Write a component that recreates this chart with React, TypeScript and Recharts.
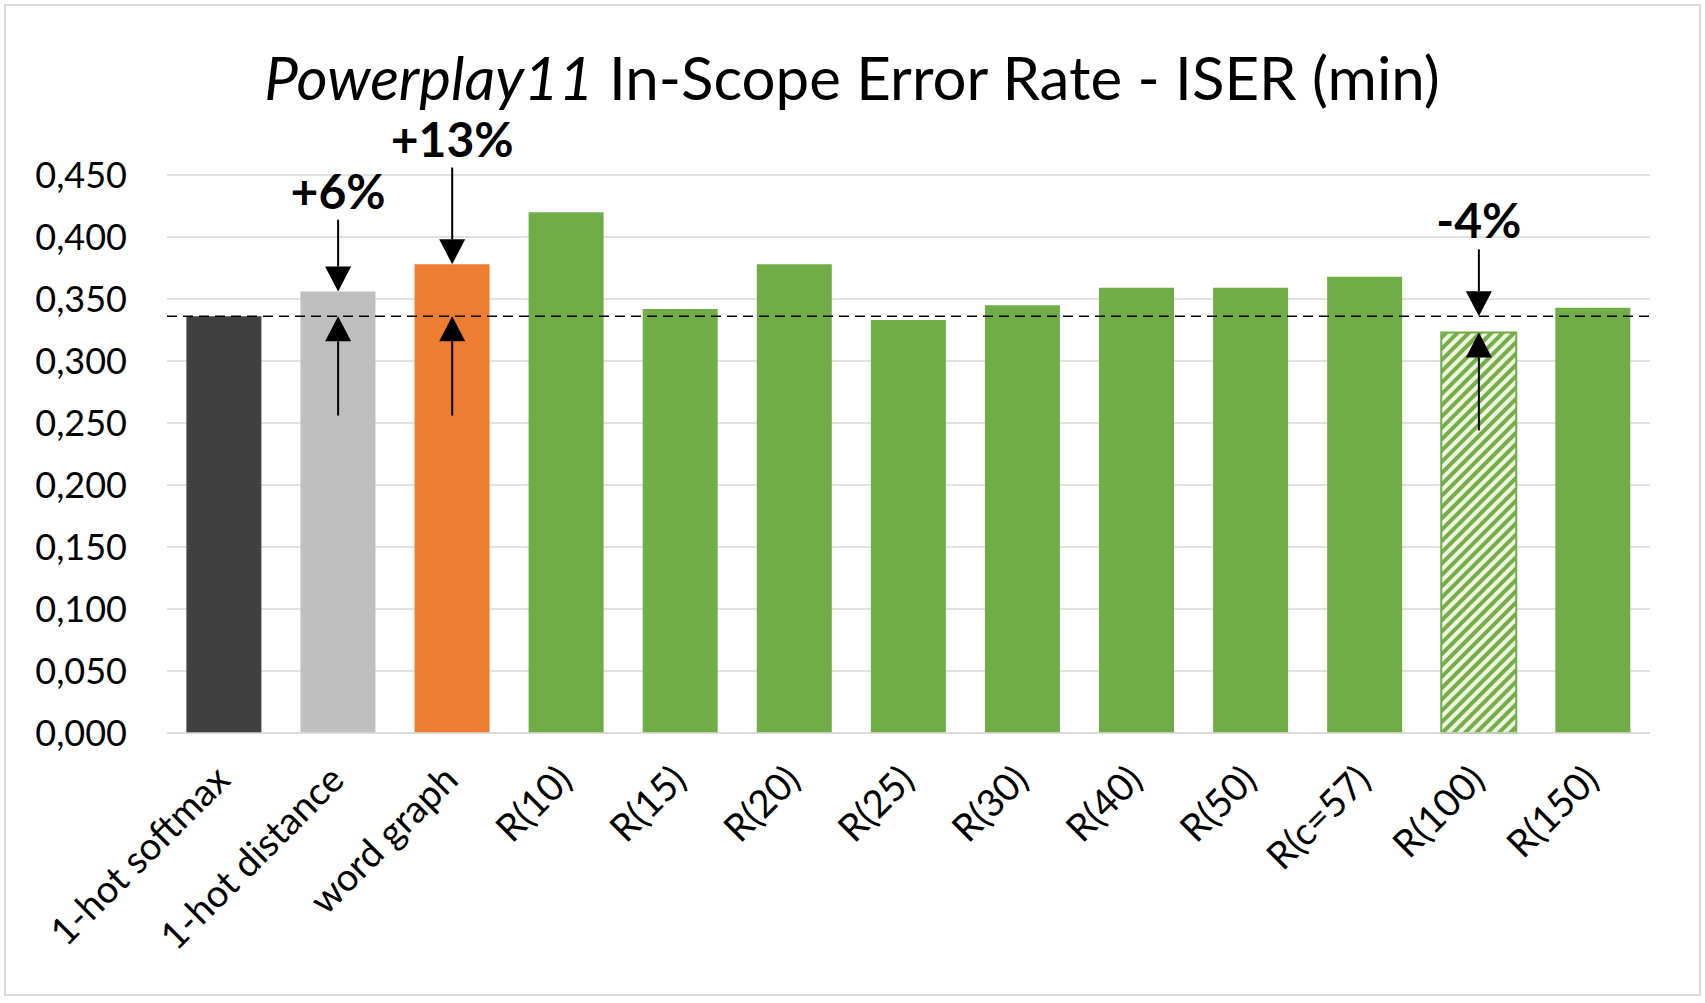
import React from 'react';
import { BarChart, Bar, XAxis, YAxis, CartesianGrid, Cell, ReferenceLine } from 'recharts';

const categories = [
  '1-hot softmax',
  '1-hot distance',
  'word graph',
  'R(10)',
  'R(15)',
  'R(20)',
  'R(25)',
  'R(30)',
  'R(40)',
  'R(50)',
  'R(c=57)',
  'R(100)',
  'R(150)',
];
const iserValues = [0.336, 0.356, 0.378, 0.42, 0.342, 0.378, 0.333, 0.345, 0.359, 0.359, 0.368, 0.323, 0.343];
const barColors = [
  '#404040',
  '#BFBFBF',
  '#ED7D31',
  '#70AD47',
  '#70AD47',
  '#70AD47',
  '#70AD47',
  '#70AD47',
  '#70AD47',
  '#70AD47',
  '#70AD47',
  'url(#hatchGreen)',
  '#70AD47',
];
const yTicks = [0, 0.05, 0.1, 0.15, 0.2, 0.25, 0.3, 0.35, 0.4, 0.45];

// arrows: label above the down arrow, arrow starts
const noteLabels = ['+6%', '+13%', '-4%'];
const noteCategories = ['1-hot distance', 'word graph', 'R(100)'];
const downArrowFrom = [0.414, 0.456, 0.39];
const upArrowFrom = [0.256, 0.256, 0.244];

const baseline = iserValues[0];
const data = categories.map((name, i) => ({ name, value: iserValues[i] }));

const FONT = 'Lato, "Open Sans", sans-serif';

const Arrow = (props: any) => {
  const { x1, y1, x2, y2, text } = props;
  const dir = y2 > y1 ? 1 : -1;
  const head = 25;
  const half = 13;
  const baseY = y2 - dir * head;
  return (
    <g>
      <line x1={x1} y1={y1} x2={x2} y2={baseY} stroke="#000" strokeWidth={2} />
      <polygon points={`${x2 - half},${baseY} ${x2 + half},${baseY} ${x2},${y2}`} fill="#000" />
      {text ? (
        <text x={x1} y={y1 - 11} textAnchor="middle" fontFamily={FONT} fontWeight="bold" fontSize={48} fill="#000">
          {text}
        </text>
      ) : null}
    </g>
  );
};

const XTick = (props: any) => {
  const { x, y, payload } = props;
  return (
    <g transform={`translate(${x + 8},${y + 49})`}>
      <text transform="rotate(-45)" textAnchor="end" fontFamily={FONT} fontSize={38} fill="#000">
        {payload.value}
      </text>
    </g>
  );
};

const App = () => {
  return (
    <div style={{ position: 'absolute', left: 0, top: 0, width: 1705, height: 1003, background: '#fff' }}>
      <div
        style={{
          position: 'absolute',
          left: 4,
          top: 4,
          width: 1697,
          height: 992,
          border: '2px solid #D9D9D9',
          boxSizing: 'border-box',
        }}
      />
      <svg width={1705} height={1003} style={{ position: 'absolute', left: 0, top: 0 }}>
        <defs>
          <pattern id="hatchGreen" patternUnits="userSpaceOnUse" width={8} height={8} patternTransform="rotate(45)">
            <rect x={0} y={0} width={8} height={8} fill="#EEF7DC" />
            <rect x={0} y={0} width={4} height={8} fill="#74AE4C" />
          </pattern>
        </defs>
        <text x={852} y={100} textAnchor="middle" fontFamily={FONT} fontSize={60} fill="#000">
          <tspan fontStyle="italic">Powerplay11</tspan>
          <tspan> In-Scope Error Rate - ISER (min)</tspan>
        </text>
      </svg>
      <div style={{ position: 'absolute', left: 0, top: 0 }}>
        <BarChart
          width={1705}
          height={1003}
          data={data}
          margin={{ top: 175, right: 55, left: 0, bottom: 0 }}
          barCategoryGap="17%"
        >
          <CartesianGrid vertical={false} stroke="#D9D9D9" strokeWidth={1.5} />
          <XAxis
            dataKey="name"
            interval={0}
            tickLine={false}
            tickSize={0}
            tickMargin={0}
            height={270}
            axisLine={{ stroke: '#D9D9D9', strokeWidth: 1.5 }}
            tick={<XTick />}
          />
          <YAxis
            width={167}
            domain={[0, 0.45]}
            ticks={yTicks}
            axisLine={false}
            tickLine={false}
            tickSize={0}
            tickMargin={40}
            tickFormatter={(v: number) => v.toFixed(3).replace('.', ',')}
            tick={{ fill: '#000', fontSize: 36, fontFamily: FONT }}
          />
          <Bar dataKey="value" isAnimationActive={false}>
            {data.map((d, i) => (
              <Cell
                key={d.name}
                fill={barColors[i]}
                stroke={barColors[i].startsWith('url') ? '#70AD47' : 'none'}
                strokeWidth={2}
              />
            ))}
          </Bar>
          <ReferenceLine y={baseline} stroke="#000" strokeWidth={1.5} strokeDasharray="10 6" />
          {noteCategories.map((cat, i) => {
            const barValue = iserValues[categories.indexOf(cat)];
            const downTo = Math.max(barValue, baseline);
            const upTo = Math.min(barValue, baseline);
            return (
              <React.Fragment key={cat}>
                <ReferenceLine
                  ifOverflow="visible"
                  segment={[
                    { x: cat, y: downArrowFrom[i] },
                    { x: cat, y: downTo },
                  ]}
                  shape={(p: any) => <Arrow {...p} text={noteLabels[i]} />}
                />
                <ReferenceLine
                  ifOverflow="visible"
                  segment={[
                    { x: cat, y: upArrowFrom[i] },
                    { x: cat, y: upTo },
                  ]}
                  shape={(p: any) => <Arrow {...p} />}
                />
              </React.Fragment>
            );
          })}
        </BarChart>
      </div>
    </div>
  );
};

export default App;
